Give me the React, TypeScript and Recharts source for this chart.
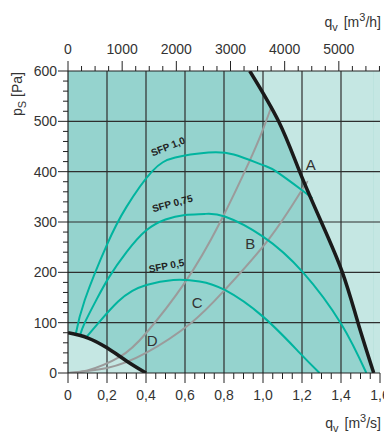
import React from 'react';
import {
  ComposedChart,
  Line,
  Area,
  XAxis,
  YAxis,
  ReferenceLine,
  ReferenceArea,
  Scatter,
  CartesianGrid,
} from 'recharts';

// ---------- data (q in m3/s, p in Pa) ----------
const fanSfp10 = [
  { q: 0.039, p: 76 }, { q: 0.086, p: 145 }, { q: 0.2, p: 255 }, { q: 0.3, p: 330 },
  { q: 0.43, p: 400 }, { q: 0.55, p: 428 }, { q: 0.72, p: 438 }, { q: 0.85, p: 434 },
  { q: 1.0, p: 413 }, { q: 1.069, p: 400 }, { q: 1.197, p: 364 }, { q: 1.253, p: 347 },
];
const fanSfp075 = [
  { q: 0.06, p: 73 }, { q: 0.086, p: 100 }, { q: 0.145, p: 145 }, { q: 0.21, p: 190 },
  { q: 0.3, p: 240 }, { q: 0.4, p: 283 }, { q: 0.5, p: 305 }, { q: 0.6, p: 314 },
  { q: 0.7, p: 316 }, { q: 0.804, p: 311 }, { q: 1.0, p: 271 }, { q: 1.205, p: 200 },
  { q: 1.402, p: 97 }, { q: 1.53, p: 0 },
];
const fanSfp05 = [
  { q: 0.094, p: 71 }, { q: 0.162, p: 102 }, { q: 0.257, p: 142 }, { q: 0.33, p: 163 },
  { q: 0.402, p: 175 }, { q: 0.54, p: 185 }, { q: 0.675, p: 182 }, { q: 0.804, p: 165 },
  { q: 1.0, p: 112 }, { q: 1.188, p: 40 }, { q: 1.29, p: 0 },
];
const systemSteep = [
  { q: 0, p: 0 }, { q: 0.1, p: 5 }, { q: 0.265, p: 32 }, { q: 0.4, p: 79 }, { q: 0.6, p: 180 },
  { q: 0.778, p: 298 }, { q: 0.932, p: 422 }, { q: 1.0, p: 484 }, { q: 1.043, p: 529 },
];
const systemFlat = [
  { q: 0, p: 0 }, { q: 0.2, p: 10 }, { q: 0.4, p: 40 }, { q: 0.633, p: 100 },
  { q: 0.804, p: 165 }, { q: 1.034, p: 268 }, { q: 1.197, p: 362 }, { q: 1.231, p: 380 },
];
const limitRight = [
  { q: 0.932, p: 600 }, { q: 1.08, p: 500 }, { q: 1.188, p: 400 }, { q: 1.299, p: 300 },
  { q: 1.407, p: 200 }, { q: 1.487, p: 100 }, { q: 1.568, p: 0 },
];
const limitLowLeft = [
  { q: 0, p: 80 }, { q: 0.1, p: 70 }, { q: 0.2, p: 50 }, { q: 0.3, p: 24 }, { q: 0.4, p: 0 },
];
const pointLabels = [
  { text: 'A', q: 1.245, p: 415 },
  { text: 'B', q: 0.935, p: 258 },
  { text: 'C', q: 0.662, p: 140 },
  { text: 'D', q: 0.432, p: 65 },
];
const sfpLabels = [
  { text: 'SFP 1,0', q: 0.513, p: 450 },
  { text: 'SFP 0,75', q: 0.535, p: 337 },
  { text: 'SFP 0,5', q: 0.505, p: 213 },
];
const qMax = 1.6;
const pMax = 600;
const qMajor = [0, 0.2, 0.4, 0.6, 0.8, 1.0, 1.2, 1.4, 1.6];
const pMajor = [0, 100, 200, 300, 400, 500, 600];
const hMajor = [0, 1000, 2000, 3000, 4000, 5000];
const SEC_PER_HOUR = 3600;

// ---------- derived ----------
const qTicks: number[] = [];
for (let i = 0; i <= 32; i++) qTicks.push(Math.round(i * 5) / 100);
const pTicks: number[] = [];
for (let i = 0; i <= 30; i++) pTicks.push(i * 20);
const hTicks: number[] = [];
for (let i = 0; i <= 23; i++) hTicks.push(i * 250);

const sfpAngles: Record<string, number> = { 'SFP 1,0': -22, 'SFP 0,75': -15, 'SFP 0,5': -11 };

// ---------- styles ----------
const FONT = '"Liberation Sans", Arial, Helvetica, sans-serif';
const TXT = '#333';
const AXIS = '#222';
const DARK_BG = '#95d3ce';
const LIGHT_BG = '#c5e7e3';
const TEAL = '#00b49f';
const GRAY = '#9b9b9b';
const BLACK = '#1a1a1a';
const GRID = '#2e2e2e';

const near = (v: number, arr: number[]) => arr.some((a) => Math.abs(a - v) < 1e-6);
const fmtQ = (v: number) => (v === 0 ? '0' : v.toFixed(1).replace('.', ','));

function BottomTick(props: any) {
  const { x, y, payload } = props;
  const v = payload.value;
  const major = near(v, qMajor);
  return (
    <g>
      <line x1={x} x2={x} y1={y} y2={y + (major ? 10 : 6)} stroke={AXIS} strokeWidth={1} />
      {major && (
        <text x={x} y={y + 27} textAnchor="middle" fontSize={14} fill={TXT} fontFamily={FONT}>
          {fmtQ(v)}
        </text>
      )}
    </g>
  );
}

function TopTick(props: any) {
  const { x, y, payload } = props;
  const v = payload.value;
  const major = near(v, hMajor);
  return (
    <g>
      <line x1={x} x2={x} y1={y} y2={y - (major ? 10 : 5)} stroke={AXIS} strokeWidth={1} />
      {major && (
        <text x={x} y={y - 17} textAnchor="middle" fontSize={14} fill={TXT} fontFamily={FONT}>
          {String(v)}
        </text>
      )}
    </g>
  );
}

function LeftTick(props: any) {
  const { x, y, payload } = props;
  const v = payload.value;
  const major = near(v, pMajor);
  return (
    <g>
      <line x1={x} x2={x - (major ? 10 : 5)} y1={y} y2={y} stroke={AXIS} strokeWidth={1} />
      {major && (
        <text x={x - 11} y={y + 5} textAnchor="end" fontSize={14} fill={TXT} fontFamily={FONT}>
          {String(v)}
        </text>
      )}
    </g>
  );
}

function LetterShape(props: any) {
  const { cx, cy, payload } = props;
  if (cx == null || cy == null) return null;
  return (
    <text x={cx} y={cy} textAnchor="middle" dominantBaseline="central" fontSize={15} fill={TXT} fontFamily={FONT}>
      {payload.text}
    </text>
  );
}

function SfpShape(props: any) {
  const { cx, cy, payload } = props;
  if (cx == null || cy == null) return null;
  const a = sfpAngles[payload.text] || 0;
  return (
    <text
      x={cx}
      y={cy}
      textAnchor="middle"
      dominantBaseline="central"
      fontSize={10}
      fontWeight="bold"
      fill="#222"
      fontFamily={FONT}
      transform={`rotate(${a} ${cx} ${cy})`}
    >
      {payload.text}
    </text>
  );
}

const lineProps = { dot: false, activeDot: false, isAnimationActive: false } as const;

export default function App() {
  const W = 384;
  const H = 427;
  return (
    <div style={{ position: 'relative', width: W, height: H, fontFamily: FONT }}>
      <ComposedChart
        width={W}
        height={H}
        margin={{ top: 33, right: 12, bottom: 32, left: 0 }}
        style={{ overflow: 'visible' }}
      >
        <CartesianGrid horizontal={false} vertical={false} fill={DARK_BG} fillOpacity={1} stroke="none" />

        <XAxis
          xAxisId={0}
          dataKey="q"
          type="number"
          domain={[0, qMax]}
          allowDataOverflow
          ticks={qTicks}
          interval={0}
          tickSize={0}
          tickMargin={0}
          tickLine={false}
          tick={<BottomTick />}
          height={30}
          axisLine={{ stroke: AXIS, strokeWidth: 1.2 }}
        />
        <XAxis
          xAxisId="top"
          orientation="top"
          dataKey={(d: any) => d.q * SEC_PER_HOUR}
          type="number"
          domain={[0, qMax * SEC_PER_HOUR]}
          allowDataOverflow
          ticks={hTicks}
          interval={0}
          tickSize={0}
          tickMargin={0}
          tickLine={false}
          tick={<TopTick />}
          height={30}
          axisLine={{ stroke: AXIS, strokeWidth: 1.2 }}
        />
        <YAxis
          type="number"
          domain={[0, pMax]}
          allowDataOverflow
          ticks={pTicks}
          interval={0}
          tickSize={0}
          tickMargin={0}
          tickLine={false}
          tick={<LeftTick />}
          width={60}
          axisLine={{ stroke: AXIS, strokeWidth: 1.2 }}
        />

        <Area
          data={limitLowLeft}
          dataKey="p"
          type="natural"
          fill={LIGHT_BG}
          fillOpacity={1}
          stroke="none"
          baseValue={0}
          {...lineProps}
        />
        <Area
          data={limitRight}
          dataKey="p"
          type="natural"
          fill={LIGHT_BG}
          fillOpacity={1}
          stroke="none"
          baseValue={pMax}
          {...lineProps}
        />
        <ReferenceArea
          x1={limitRight[limitRight.length - 1].q}
          x2={qMax}
          y1={0}
          y2={pMax}
          fill={LIGHT_BG}
          fillOpacity={1}
          stroke="none"
        />

        {qMajor.filter((v) => v > 0 && v < qMax).map((v) => (
          <ReferenceLine key={'vx' + v} x={v} stroke={GRID} strokeWidth={1.2} />
        ))}
        {pMajor.filter((v) => v > 0 && v < pMax).map((v) => (
          <ReferenceLine key={'hy' + v} y={v} stroke={GRID} strokeWidth={1.2} />
        ))}

        <Line data={systemSteep} dataKey="p" type="natural" stroke={GRAY} strokeWidth={2} {...lineProps} />
        <Line data={systemFlat} xAxisId="top" dataKey="p" type="natural" stroke={GRAY} strokeWidth={2} {...lineProps} />

        <Line data={fanSfp10} dataKey="p" type="natural" stroke={TEAL} strokeWidth={2} {...lineProps} />
        <Line data={fanSfp075} dataKey="p" type="natural" stroke={TEAL} strokeWidth={2} {...lineProps} />
        <Line data={fanSfp05} dataKey="p" type="natural" stroke={TEAL} strokeWidth={2} {...lineProps} />

        <Line data={limitRight} dataKey="p" type="natural" stroke={BLACK} strokeWidth={3.5} {...lineProps} />
        <Line data={limitLowLeft} dataKey="p" type="natural" stroke={BLACK} strokeWidth={3.5} {...lineProps} />

        <Scatter data={pointLabels} dataKey="p" shape={<LetterShape />} isAnimationActive={false} />
        <Scatter data={sfpLabels} dataKey="p" shape={<SfpShape />} isAnimationActive={false} />
      </ComposedChart>

      <svg
        width={W}
        height={H}
        style={{ position: 'absolute', left: 0, top: 0, pointerEvents: 'none', overflow: 'visible' }}
      >
        <text x={373} y={19} textAnchor="end" fontSize={14} fill={TXT} fontFamily={FONT}>
          q<tspan dy={4} fontSize={11}>v</tspan>
          <tspan dy={-4} dx={6}>[m</tspan>
          <tspan dy={-6} fontSize={11}>3</tspan>
          <tspan dy={6}>/h]</tspan>
        </text>
        <text x={373} y={420} textAnchor="end" fontSize={14} fill={TXT} fontFamily={FONT}>
          q<tspan dy={4} fontSize={11}>v</tspan>
          <tspan dy={-4} dx={6}>[m</tspan>
          <tspan dy={-6} fontSize={11}>3</tspan>
          <tspan dy={6}>/s]</tspan>
        </text>
        <text
          x={0}
          y={0}
          textAnchor="end"
          fontSize={14}
          fill={TXT}
          fontFamily={FONT}
          transform="translate(14 64) rotate(-90)"
        >
          p<tspan dy={4} fontSize={11}>S</tspan>
          <tspan dy={-4} dx={4}>[Pa]</tspan>
        </text>
        <text
          x={0}
          y={0}
          fontSize={7}
          fill="#777"
          fontFamily={FONT}
          transform="translate(379 66) rotate(90)"
        >
          16226_16225
        </text>
      </svg>
    </div>
  );
}
